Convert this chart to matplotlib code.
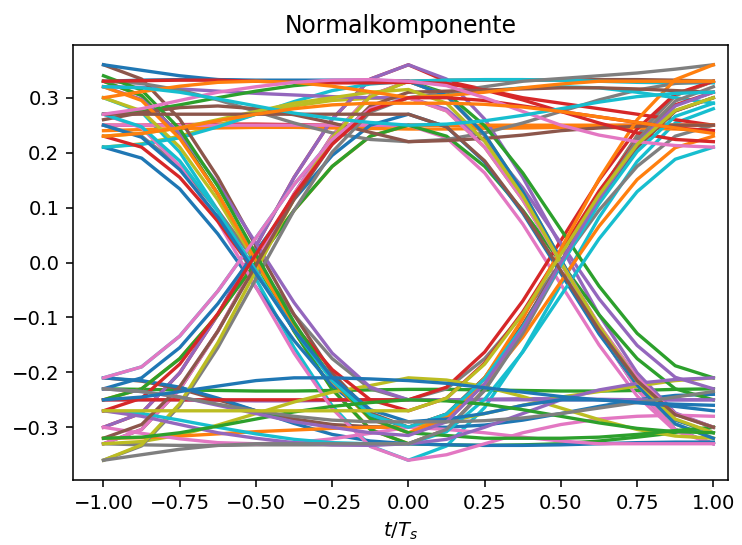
import matplotlib
matplotlib.use("Agg")
import matplotlib.pyplot as plt
import numpy as np

# sample instants, 8 samples per symbol, from -Ts to +Ts
t = np.arange(-8, 9) / 8

# traces, grouped by symbol pattern (t=-1, 0, 1)
ppp = [
    [.25, .25, .251, .252, .252, .251, .25, .25, .25, .25, .249, .248, .248, .249, .25, .25, .25],
    [.24, .242, .244, .245, .246, .246, .245, .244, .243, .243, .244, .245, .246, .246, .245, .243, .24],
    [.21, .215, .227, .247, .27, .293, .313, .325, .33, .332, .333, .333, .332, .33, .328, .327, .327],
    [.33, .326, .314, .296, .275, .254, .236, .224, .22, .224, .236, .254, .275, .296, .314, .326, .33],
    [.26, .273, .282, .285, .28, .269, .254, .237, .22, .222, .226, .232, .24, .245, .248, .25, .25],
    [.33, .331, .332, .332, .33, .328, .327, .327, .328, .326, .314, .296, .275, .254, .236, .224, .22],
    [.30, .311, .321, .328, .33, .328, .321, .311, .30, .304, .31, .318, .325, .33, .33, .33, .33],
    [.27, .28, .295, .31, .32, .328, .332, .333, .33, .322, .30, .275, .25, .232, .22, .213, .21],
    [.32, .318, .31, .298, .285, .272, .262, .255, .25, .252, .258, .268, .28, .292, .302, .308, .31],
    [.23, .235, .245, .258, .27, .28, .287, .29, .29, .29, .288, .283, .275, .265, .255, .245, .235],
]
ppm = [
    [.33, .332, .333, .333, .332, .332, .332, .332, .33, .304, .231, .125, 0, -.125, -.231, -.304, -.33],
    [.21, .216, .23, .25, .27, .285, .295, .299, .30, .276, .21, .114, 0, -.114, -.21, -.276, -.30],
    [.25, .25, .25, .25, .25, .25, .25, .25, .25, .227, .163, .07, -.04, -.15, -.243, -.307, -.33],
    [.32, .319, .316, .312, .308, .305, .302, .30, .30, .279, .221, .136, .035, -.066, -.151, -.209, -.23],
    [.27, .275, .287, .30, .312, .322, .328, .33, .33, .308, .249, .163, .06, -.043, -.129, -.188, -.21],
    [.36, .35, .34, .333, .33, .33, .33, .33, .33, .304, .233, .129, .005, -.119, -.223, -.294, -.32],
    [.23, .235, .245, .26, .275, .29, .30, .31, .315, .29, .221, .121, 0, -.116, -.216, -.285, -.31],
    [.27, .27, .27, .27, .27, .27, .27, .27, .27, .247, .185, .093, -.015, -.123, -.215, -.277, -.30],
]
pmp = [
    [.33, .304, .231, .125, 0, -.125, -.231, -.304, -.33, -.304, -.231, -.125, 0, .125, .231, .304, .33],
    [.30, .274, .201, .095, -.03, -.155, -.261, -.334, -.36, -.334, -.264, -.162, -.04, .082, .184, .254, .28],
    [.25, .23, .175, .095, 0, -.095, -.175, -.23, -.25, -.23, -.175, -.095, 0, .095, .175, .23, .25],
    [.36, .334, .261, .155, .03, -.095, -.201, -.274, -.30, -.276, -.21, -.114, 0, .114, .21, .276, .30],
    [.23, .21, .155, .075, -.02, -.115, -.195, -.25, -.27, -.247, -.183, -.09, .02, .13, .223, .287, .31],
    [.32, .295, .226, .125, .005, -.115, -.216, -.285, -.31, -.283, -.21, -.102, .025, .152, .26, .333, .36],
    [.27, .247, .185, .093, -.015, -.123, -.215, -.277, -.30, -.276, -.212, -.117, -.005, .107, .202, .266, .29],
]
pmm = [
    [.33, .304, .231, .125, 0, -.125, -.231, -.304, -.33, -.332, -.333, -.332, -.33, -.325, -.318, -.31, -.30],
    [.21, .19, .134, .052, -.045, -.142, -.224, -.28, -.30, -.30, -.296, -.287, -.275, -.262, -.25, -.242, -.24],
    [.30, .276, .21, .114, 0, -.114, -.21, -.276, -.30, -.29, -.275, -.26, -.245, -.235, -.225, -.215, -.21],
    [.27, .245, .176, .075, -.045, -.165, -.266, -.335, -.36, -.35, -.33, -.31, -.295, -.285, -.28, -.278, -.28],
    [.32, .297, .235, .143, .035, -.073, -.165, -.227, -.25, -.25, -.25, -.25, -.25, -.25, -.25, -.25, -.25],
    [.34, .314, .243, .139, .015, -.109, -.213, -.284, -.31, -.315, -.32, -.32, -.32, -.318, -.313, -.306, -.30],
    [.25, .228, .169, .083, -.02, -.123, -.209, -.268, -.29, -.285, -.275, -.26, -.25, -.25, -.255, -.262, -.27],
]
mpp = [
    [-.33, -.304, -.231, -.125, 0, .125, .231, .304, .33, .332, .332, .332, .332, .333, .333, .332, .33],
    [-.30, -.274, -.201, -.095, .03, .155, .261, .334, .36, .33, .315, .30, .29, .28, .27, .26, .25],
    [-.25, -.23, -.175, -.095, 0, .095, .175, .23, .25, .25, .25, .25, .25, .25, .25, .25, .25],
    [-.21, -.19, -.134, -.052, .045, .142, .224, .28, .30, .305, .312, .318, .32, .318, .31, .30, .29],
    [-.36, -.334, -.261, -.155, -.03, .095, .201, .274, .30, .31, .32, .33, .335, .34, .345, .352, .36],
    [-.32, -.295, -.226, -.125, -.005, .115, .216, .285, .31, .312, .314, .316, .318, .318, .316, .313, .31],
    [-.27, -.247, -.185, -.093, .015, .123, .215, .277, .30, .30, .295, .285, .275, .265, .255, .245, .24],
]
mpm = [
    [-.33, -.304, -.231, -.125, 0, .125, .231, .304, .33, .304, .231, .125, 0, -.125, -.231, -.304, -.33],
    [-.30, -.274, -.201, -.095, .03, .155, .261, .334, .36, .334, .261, .155, .03, -.095, -.201, -.274, -.30],
    [-.25, -.23, -.175, -.095, 0, .095, .175, .23, .25, .23, .175, .095, 0, -.095, -.175, -.23, -.25],
    [-.23, -.21, -.155, -.075, .02, .115, .195, .25, .27, .247, .183, .09, -.02, -.13, -.223, -.287, -.31],
    [-.36, -.332, -.257, -.146, -.015, .116, .227, .302, .33, .304, .233, .129, .005, -.119, -.223, -.294, -.32],
    [-.21, -.19, -.134, -.052, .045, .142, .224, .28, .30, .276, .21, .114, 0, -.114, -.21, -.276, -.30],
]
mmp = [
    [-.33, -.332, -.333, -.333, -.332, -.332, -.332, -.332, -.33, -.304, -.231, -.125, 0, .125, .231, .304, .33],
    [-.21, -.216, -.23, -.25, -.27, -.285, -.295, -.299, -.30, -.276, -.21, -.114, 0, .114, .21, .276, .30],
    [-.25, -.25, -.25, -.25, -.25, -.25, -.25, -.25, -.25, -.227, -.163, -.07, .04, .15, .243, .307, .33],
    [-.32, -.319, -.316, -.312, -.308, -.305, -.302, -.30, -.30, -.279, -.221, -.136, -.035, .066, .151, .209, .23],
    [-.27, -.275, -.287, -.30, -.312, -.322, -.328, -.33, -.33, -.308, -.249, -.163, -.06, .043, .129, .188, .21],
    [-.36, -.35, -.34, -.333, -.33, -.33, -.33, -.33, -.33, -.304, -.233, -.129, -.005, .119, .223, .294, .32],
    [-.23, -.235, -.245, -.26, -.275, -.29, -.30, -.31, -.315, -.29, -.221, -.121, 0, .116, .216, .285, .31],
    [-.27, -.27, -.27, -.27, -.27, -.27, -.27, -.27, -.27, -.247, -.185, -.093, .015, .123, .215, .277, .30],
]
mmm = [
    [-.25, -.25, -.25, -.251, -.252, -.252, -.251, -.25, -.25, -.25, -.249, -.248, -.248, -.249, -.25, -.25, -.25],
    [-.23, -.231, -.232, -.233, -.234, -.234, -.233, -.232, -.231, -.231, -.232, -.233, -.234, -.234, -.233, -.231, -.23],
    [-.21, -.215, -.227, -.247, -.27, -.293, -.313, -.325, -.33, -.332, -.333, -.333, -.332, -.33, -.328, -.327, -.327],
    [-.33, -.326, -.314, -.296, -.275, -.254, -.236, -.224, -.21, -.214, -.226, -.244, -.265, -.286, -.304, -.316, -.32],
    [-.30, -.311, -.321, -.328, -.33, -.328, -.321, -.311, -.30, -.304, -.31, -.318, -.325, -.33, -.33, -.33, -.33],
    [-.27, -.28, -.295, -.31, -.32, -.328, -.332, -.333, -.33, -.322, -.30, -.275, -.25, -.232, -.22, -.213, -.21],
    [-.32, -.318, -.31, -.298, -.285, -.272, -.262, -.255, -.25, -.252, -.258, -.268, -.28, -.292, -.302, -.308, -.31],
    [-.23, -.235, -.245, -.258, -.27, -.28, -.287, -.29, -.29, -.29, -.288, -.283, -.275, -.265, -.255, -.245, -.235],
    [-.25, -.245, -.235, -.225, -.215, -.21, -.21, -.212, -.215, -.22, -.228, -.236, -.244, -.25, -.255, -.258, -.26],
]

groups = [ppm, pmp, pmm, ppp, mmm, mpp, mpm, mmp]

fig = plt.figure(figsize=(742 / 141, 545 / 141), dpi=141)
ax = fig.add_axes([73 / 742, 65 / 545, 655 / 742, 435 / 545])

# interleave the groups so the colour cycle gets mixed like in the original
for i in range(max(len(g) for g in groups)):
    for g in groups:
        if i < len(g):
            ax.plot(t, g[i], lw=1.7)

ax.set_xlim(-1.1, 1.048)
ax.set_xticks(np.arange(-1, 1.01, 0.25))
ax.set_title("Normalkomponente")
ax.set_xlabel("$t/T_s$")
fig.savefig("out.png", dpi=141)
